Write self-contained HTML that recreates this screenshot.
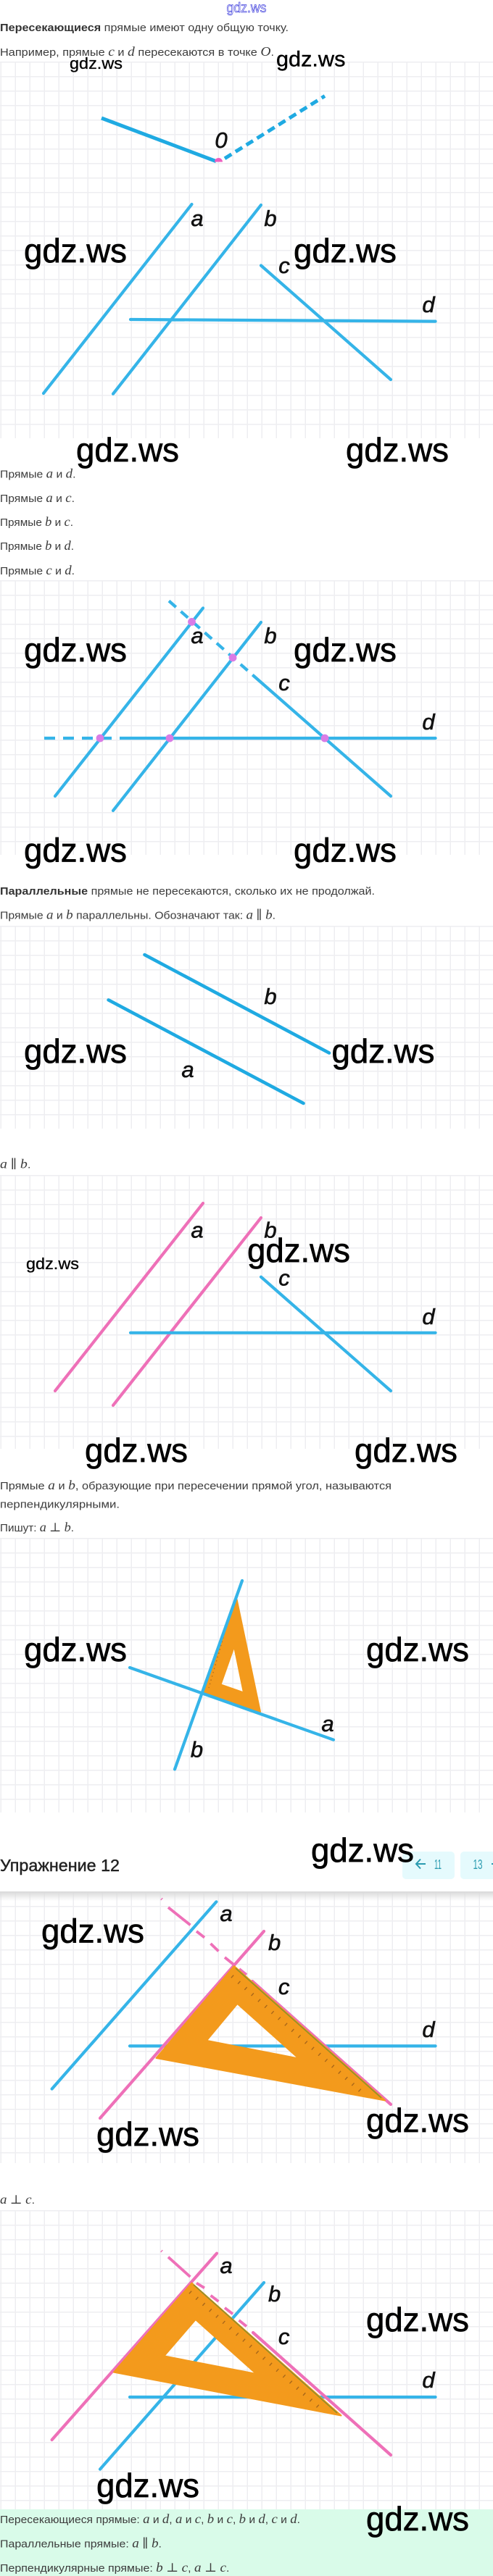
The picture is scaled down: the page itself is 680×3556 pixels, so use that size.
<!DOCTYPE html>
<html><head><meta charset="utf-8"><style>
html,body{margin:0;padding:0;background:#fff}
#p{position:relative;width:680px;height:3556px;overflow:hidden;background:#fff}
.g{position:absolute;left:0;width:680px;background-image:linear-gradient(#eeeef1 1.6px,transparent 1.6px),linear-gradient(90deg,#eeeef1 1.6px,transparent 1.6px);background-size:20px 20px;background-position:0 0,0.5px 0}
svg{position:absolute;left:0;top:0}
.t{font:15px "Liberation Sans",sans-serif;fill:#3c3c3c}
.t tspan.m{font:italic 18px "Liberation Serif","DejaVu Serif",serif;fill:#3c3c3c}
.t tspan.s{font:17px "DejaVu Serif","Liberation Serif",serif;fill:#3c3c3c}
.t tspan.b{font-weight:bold;fill:#333}
.l{font:italic 31px "Liberation Sans",sans-serif;fill:#111;stroke:#111;stroke-width:.6;text-anchor:middle}
.w{font-family:"Liberation Sans",sans-serif;fill:#000;stroke:#000;stroke-width:.7}
.bl{stroke:#35b4e8;stroke-width:4.2;stroke-linecap:round;fill:none}
.bd{stroke:#1faae2;stroke-width:5;stroke-linecap:butt;fill:none}
.pk{stroke:#ee70b8;stroke-width:4.2;stroke-linecap:round;fill:none}
.pd{stroke:#ee70b8;stroke-width:3.8;stroke-linecap:butt;fill:none}
.tr{fill:#f39a1c;stroke:#f39a1c;stroke-width:2;stroke-linejoin:round;fill-rule:evenodd}
</style></head><body><div id="p">
<div class="g" style="top:85px;height:520px"></div>
<div class="g" style="top:801px;height:379px"></div>
<div class="g" style="top:1278px;height:280px"></div>
<div class="g" style="top:1622px;height:378px"></div>
<div class="g" style="top:2123px;height:379px"></div>
<div class="g" style="top:2611px;height:375px"></div>
<div class="g" style="top:3051px;height:413px"></div>
<div style="position:absolute;left:0;top:2611px;width:680px;height:13px;background:linear-gradient(#d9d9d9,rgba(255,255,255,0))"></div>
<div style="position:absolute;left:0;top:3464px;width:680px;height:92px;background:#d9fbe9"></div>
<svg width="680" height="3556" viewBox="0 0 680 3556" xmlns="http://www.w3.org/2000/svg">
<text x="340" y="17" text-anchor="middle" font-family="Liberation Sans, sans-serif" font-size="19" fill="none" stroke="#3c3cdc" stroke-width=".7" textLength="55" lengthAdjust="spacingAndGlyphs">gdz.ws</text>

<text class="t" x="0" y="43" textLength="398" lengthAdjust="spacingAndGlyphs"><tspan class="b">Пересекающиеся</tspan> прямые имеют одну общую точку.</text>
<text class="t" x="0" y="77" textLength="378" lengthAdjust="spacingAndGlyphs">Например, прямые <tspan class="m">c</tspan> и <tspan class="m">d</tspan> пересекаются в точке <tspan class="m">O</tspan>.</text>

<!-- figure 1 -->
<path class="bd" d="M140 163L298 222.6" stroke-linecap="round"/>
<path class="bd" d="M310 218.7L448 132.5" stroke-dasharray="11 6.5"/>
<path d="M296 223.5a5.5 5.5 0 0 1 11 0z" fill="#ee5fc0"/>
<text class="l" x="305" y="204">0</text>
<path class="bl" d="M264.5 282L60 543M360 283L156 543.7M360 366.5L539 524M180 441L600.6 443.6"/>
<text class="l" x="272" y="312">a</text><text class="l" x="373" y="312">b</text><text class="l" x="392" y="377">c</text><text class="l" x="591" y="431">d</text>

<text class="t" x="0" y="659.5" textLength="104.5" lengthAdjust="spacingAndGlyphs">Прямые <tspan class="m">a</tspan> и <tspan class="m">d</tspan>.</text>
<text class="t" x="0" y="693" textLength="103" lengthAdjust="spacingAndGlyphs">Прямые <tspan class="m">a</tspan> и <tspan class="m">c</tspan>.</text>
<text class="t" x="0" y="726" textLength="101" lengthAdjust="spacingAndGlyphs">Прямые <tspan class="m">b</tspan> и <tspan class="m">c</tspan>.</text>
<text class="t" x="0" y="759" textLength="102" lengthAdjust="spacingAndGlyphs">Прямые <tspan class="m">b</tspan> и <tspan class="m">d</tspan>.</text>
<text class="t" x="0" y="793" textLength="103" lengthAdjust="spacingAndGlyphs">Прямые <tspan class="m">c</tspan> и <tspan class="m">d</tspan>.</text>

<!-- figure 2 -->
<path class="bl" d="M280 839.4L76 1099M360 859L156 1119M351 934L539 1099M180 1019L600.6 1019"/>
<path class="bl" style="stroke-linecap:butt" d="M233 829.5L351 934" stroke-dasharray="13 9"/>
<path class="bl" style="stroke-linecap:butt" d="M61 1019L180 1019" stroke-dasharray="15 11"/>
<g fill="#d97ce6"><circle cx="138" cy="1019" r="5.4"/><circle cx="234" cy="1019" r="5.4"/><circle cx="448" cy="1019" r="5.4"/><circle cx="264.5" cy="858.4" r="5.4"/><circle cx="321" cy="907.8" r="5.4"/></g>
<text class="l" x="272" y="888">a</text><text class="l" x="373" y="888">b</text><text class="l" x="392" y="953">c</text><text class="l" x="591" y="1007">d</text>

<text class="t" x="0" y="1235" textLength="517" lengthAdjust="spacingAndGlyphs"><tspan class="b">Параллельные</tspan> прямые не пересекаются, сколько их не продолжай.</text>
<text class="t" x="0" y="1268.5" textLength="380" lengthAdjust="spacingAndGlyphs">Прямые <tspan class="m">a</tspan> и <tspan class="m">b</tspan> параллельны. Обозначают так: <tspan class="m">a</tspan> <tspan class="s">∥</tspan> <tspan class="m">b</tspan>.</text>

<!-- figure 3 -->
<path class="bl" style="stroke:#1faae2;stroke-width:4.6" d="M199.5 1318L454 1453.5M149.6 1380.4L418.5 1523"/>
<text class="l" x="373" y="1386">b</text><text class="l" x="259" y="1487">a</text>

<text class="t" x="0" y="1612.5" textLength="42.5" lengthAdjust="spacingAndGlyphs"><tspan class="m">a</tspan> <tspan class="s">∥</tspan> <tspan class="m">b</tspan>.</text>

<!-- figure 4 -->
<path class="pk" d="M280 1661L76 1920M360 1681L156 1940"/>
<path class="bl" d="M360 1762.7L539 1920M180 1839.8L600.6 1839.8"/>
<text class="l" x="272" y="1708.5">a</text><text class="l" x="373" y="1708.5">b</text><text class="l" x="392" y="1774.5">c</text><text class="l" x="591" y="1828">d</text>

<text class="t" x="0" y="2056" textLength="540" lengthAdjust="spacingAndGlyphs">Прямые <tspan class="m">a</tspan> и <tspan class="m">b</tspan>, образующие при пересечении прямой угол, называются</text>
<text class="t" x="0" y="2081.5" textLength="165" lengthAdjust="spacingAndGlyphs">перпендикулярными.</text>
<text class="t" x="0" y="2114" textLength="102" lengthAdjust="spacingAndGlyphs">Пишут: <tspan class="m">a</tspan> <tspan class="s">⊥</tspan> <tspan class="m">b</tspan>.</text>

<!-- figure 5 -->
<path class="tr" d="M326.6 2208L359 2363L280 2336.5ZM323 2273L304.5 2325.4L336 2336.5Z" stroke-width="1"/>
<path d="M320 2218L288 2330" stroke="#b5701a" stroke-width="1.5" stroke-dasharray="1.5 4" fill="none"/>
<path class="bl" d="M334 2182L241 2442.4M179 2302L460 2401.7"/>
<text class="l" x="452" y="2390">a</text><text class="l" x="271.5" y="2425.5">b</text>

<!-- header band -->
<text x="0" y="2583" font-family="Liberation Sans, sans-serif" font-size="23" fill="#222" stroke="#222" stroke-width=".45" textLength="165" lengthAdjust="spacingAndGlyphs">Упражнение 12</text>
<rect x="555" y="2556" width="72" height="38" rx="5" fill="#e5fafd"/>
<rect x="635" y="2556" width="60" height="38" rx="5" fill="#e5fafd"/>
<path d="M587 2573H574M580 2566.5L574 2573L580 2579.5" stroke="#2a9bb0" stroke-width="2" fill="none"/>
<text x="604" y="2580" text-anchor="middle" font-family="Liberation Sans, sans-serif" font-size="18" fill="#2a9bb0" textLength="10" lengthAdjust="spacingAndGlyphs">11</text>
<text x="659" y="2580" text-anchor="middle" font-family="Liberation Sans, sans-serif" font-size="18" fill="#2a9bb0" textLength="13" lengthAdjust="spacingAndGlyphs">13</text>
<path d="M678 2573H690" stroke="#2a9bb0" stroke-width="2"/>

<!-- figure 6 -->
<path class="bl" d="M298.4 2625.3L71.6 2883.6M179 2824.4L600.6 2824.4"/>
<path class="pk" d="M364 2666L138 2924M348 2735L539 2905"/>
<path class="pd" d="M222.5 2621L223.5 2622M232 2633L262.5 2657.4M271 2666L282 2674.6M290.5 2683L301.4 2693.5M310 2702L323 2712.5M330 2718L340 2726"/>
<path class="tr" d="M323 2714L531 2899.5L215.5 2841ZM327.4 2766L285 2816.8L412 2841.6Z"/>
<path d="M325 2717L526 2896" stroke="#8f8f2a" stroke-width="1.6" fill="none"/>
<path d="M320 2728L500 2889" stroke="#a8671a" stroke-width="5" stroke-dasharray="1.4 11" fill="none"/>
<text class="l" x="312" y="2652">a</text><text class="l" x="378.6" y="2692">b</text><text class="l" x="391.6" y="2753">c</text><text class="l" x="591" y="2812">d</text>

<text class="t" x="0" y="3042" textLength="48" lengthAdjust="spacingAndGlyphs"><tspan class="m">a</tspan> <tspan class="s">⊥</tspan> <tspan class="m">c</tspan>.</text>

<!-- figure 7 -->
<path class="bl" d="M364 3151L138 3408.6M179 3309L600.6 3309"/>
<path class="pk" d="M299 3110.6L71.6 3368M349 3220L539 3389"/>
<path class="pd" d="M222.5 3107L223.5 3108M232 3115.7L262.4 3143M271 3151.6L282 3158.4M290.6 3168.7L301.4 3177M310 3185.8L321 3194.3M329.6 3203L340 3211.4"/>
<path class="tr" d="M264.5 3151.6L470.5 3334.5L157 3274.6ZM269.8 3202L226.4 3252.4L353.5 3277Z"/>
<path d="M267 3154L465 3331" stroke="#8f8f2a" stroke-width="1.6" fill="none"/>
<path d="M262 3164L442 3325" stroke="#a8671a" stroke-width="5" stroke-dasharray="1.4 11" fill="none"/>
<text class="l" x="312" y="3138">a</text><text class="l" x="378.6" y="3177">b</text><text class="l" x="391.6" y="3236">c</text><text class="l" x="591" y="3296">d</text>

<text class="t" x="0" y="3483" textLength="414" lengthAdjust="spacingAndGlyphs">Пересекающиеся прямые: <tspan class="m">a</tspan> и <tspan class="m">d</tspan>, <tspan class="m">a</tspan> и <tspan class="m">c</tspan>, <tspan class="m">b</tspan> и <tspan class="m">c</tspan>, <tspan class="m">b</tspan> и <tspan class="m">d</tspan>, <tspan class="m">c</tspan> и <tspan class="m">d</tspan>.</text>
<text class="t" x="0" y="3516.5" textLength="223" lengthAdjust="spacingAndGlyphs">Параллельные прямые: <tspan class="m">a</tspan> <tspan class="s">∥</tspan> <tspan class="m">b</tspan>.</text>
<text class="t" x="0" y="3550" textLength="316.5" lengthAdjust="spacingAndGlyphs">Перпендикулярные прямые: <tspan class="m">b</tspan> <tspan class="s">⊥</tspan> <tspan class="m">c</tspan>, <tspan class="m">a</tspan> <tspan class="s">⊥</tspan> <tspan class="m">c</tspan>.</text>

<!-- watermarks -->
<g class="w" font-size="46">
<text x="33" y="362" textLength="142" lengthAdjust="spacingAndGlyphs">gdz.ws</text>
<text x="405" y="362" textLength="142" lengthAdjust="spacingAndGlyphs">gdz.ws</text>
<text x="105" y="637" textLength="142" lengthAdjust="spacingAndGlyphs">gdz.ws</text>
<text x="477" y="637" textLength="142" lengthAdjust="spacingAndGlyphs">gdz.ws</text>
<text x="33" y="913" textLength="142" lengthAdjust="spacingAndGlyphs">gdz.ws</text>
<text x="405" y="913" textLength="142" lengthAdjust="spacingAndGlyphs">gdz.ws</text>
<text x="33" y="1189.5" textLength="142" lengthAdjust="spacingAndGlyphs">gdz.ws</text>
<text x="405" y="1189.5" textLength="142" lengthAdjust="spacingAndGlyphs">gdz.ws</text>
<text x="33" y="1467" textLength="142" lengthAdjust="spacingAndGlyphs">gdz.ws</text>
<text x="457.5" y="1467" textLength="142" lengthAdjust="spacingAndGlyphs">gdz.ws</text>
<text x="341" y="1742" textLength="142" lengthAdjust="spacingAndGlyphs">gdz.ws</text>
<text x="117" y="2018" textLength="142" lengthAdjust="spacingAndGlyphs">gdz.ws</text>
<text x="489" y="2018" textLength="142" lengthAdjust="spacingAndGlyphs">gdz.ws</text>
<text x="33" y="2293" textLength="142" lengthAdjust="spacingAndGlyphs">gdz.ws</text>
<text x="505" y="2293" textLength="142" lengthAdjust="spacingAndGlyphs">gdz.ws</text>
<text x="429" y="2570" textLength="142" lengthAdjust="spacingAndGlyphs">gdz.ws</text>
<text x="57" y="2681.5" textLength="142" lengthAdjust="spacingAndGlyphs">gdz.ws</text>
<text x="133" y="2962" textLength="142" lengthAdjust="spacingAndGlyphs">gdz.ws</text>
<text x="505" y="2943" textLength="142" lengthAdjust="spacingAndGlyphs">gdz.ws</text>
<text x="505" y="3218" textLength="142" lengthAdjust="spacingAndGlyphs">gdz.ws</text>
<text x="133" y="3447" textLength="142" lengthAdjust="spacingAndGlyphs">gdz.ws</text>
<text x="505" y="3493" textLength="142" lengthAdjust="spacingAndGlyphs">gdz.ws</text>
</g>
<text class="w" style="stroke-width:.4" x="381" y="91.7" font-size="30" textLength="95.4" lengthAdjust="spacingAndGlyphs">gdz.ws</text>
<text class="w" style="stroke-width:.3" x="96" y="95" font-size="22" textLength="73" lengthAdjust="spacingAndGlyphs">gdz.ws</text>
<text class="w" style="stroke-width:.3" x="36" y="1752" font-size="22" textLength="73" lengthAdjust="spacingAndGlyphs">gdz.ws</text>
</svg>
</div></body></html>
